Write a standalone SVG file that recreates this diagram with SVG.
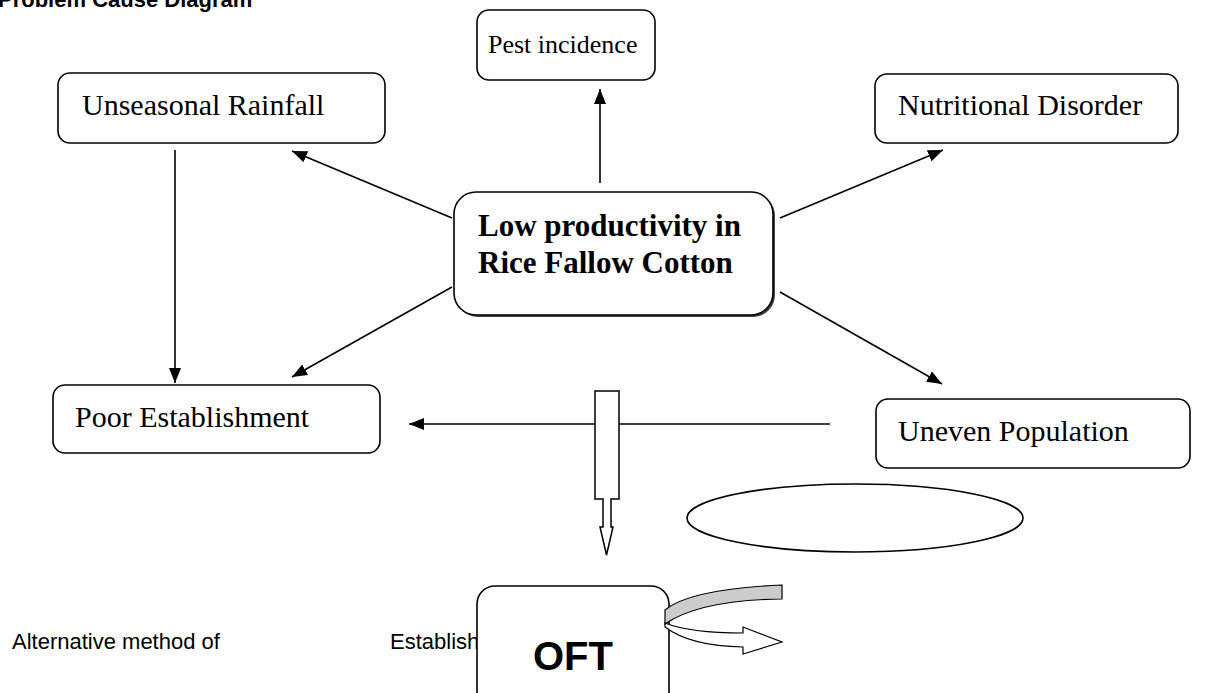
<svg xmlns="http://www.w3.org/2000/svg" width="1211" height="693" viewBox="0 0 1211 693">
<style>
.box{fill:#fff;stroke:#000;stroke-width:1.6}
.t{font-family:"Liberation Serif","Times New Roman",serif;font-size:30px;fill:#000}
.tb{font-family:"Liberation Serif","Times New Roman",serif;font-size:31px;font-weight:bold;fill:#000}
.a{font-family:"Liberation Sans",Arial,sans-serif;fill:#000}
.ln{stroke:#000;stroke-width:1.6;fill:none}
</style>
<defs>
<marker id="ah" markerUnits="userSpaceOnUse" markerWidth="16" markerHeight="12" refX="15" refY="6" orient="auto">
<path d="M0,0 L15,6 L0,12 z" fill="#000"/>
</marker>
</defs>
<rect width="1211" height="693" fill="#fff"/>
<text class="a" x="-2" y="7" font-size="22" font-weight="bold">Problem Cause Diagram</text>

<g id="connectors">
<line class="ln" x1="600" y1="183" x2="600" y2="89" marker-end="url(#ah)"/>
<line class="ln" x1="452" y1="218" x2="292" y2="151" marker-end="url(#ah)"/>
<line class="ln" x1="452" y1="287" x2="292" y2="377" marker-end="url(#ah)"/>
<line class="ln" x1="780" y1="218" x2="943" y2="150" marker-end="url(#ah)"/>
<line class="ln" x1="780" y1="292" x2="942" y2="384" marker-end="url(#ah)"/>
<line class="ln" x1="175" y1="150" x2="175" y2="383" marker-end="url(#ah)"/>
<line class="ln" x1="830" y1="424" x2="409" y2="424" marker-end="url(#ah)"/>
<path id="block-arrow" d="M595,391 H619 V499 H611 V527 H613 L606.5,555 L600,527 H603 V499 H595 Z" fill="#fff" stroke="#000" stroke-width="1.5"/>
</g>

<g id="pest"><rect class="box" x="477" y="10" width="178" height="70" rx="12"/><text class="t" x="488" y="53" style="font-size:26px">Pest incidence</text></g>
<g id="unseasonal"><rect class="box" x="58" y="73" width="327" height="70" rx="12"/><text class="t" x="82" y="115">Unseasonal Rainfall</text></g>
<g id="nutritional"><rect class="box" x="875" y="74" width="303" height="69" rx="12"/><text class="t" x="898" y="115">Nutritional Disorder</text></g>
<g id="center"><rect x="456" y="194" width="319" height="123" rx="22" fill="#444"/><rect class="box" x="454" y="192" width="319" height="123" rx="22"/><text class="tb" x="478" y="236">Low productivity in</text><text class="tb" x="478" y="273">Rice Fallow Cotton</text></g>
<g id="poor"><rect class="box" x="53" y="385" width="327" height="68" rx="12"/><text class="t" x="75" y="427">Poor Establishment</text></g>
<g id="uneven"><rect class="box" x="876" y="399" width="314" height="69" rx="12"/><text class="t" x="898" y="441">Uneven Population</text></g>
<g id="ellipse"><ellipse cx="855" cy="518" rx="168" ry="34" fill="#fff" stroke="#000" stroke-width="1.6"/></g>

<g id="alt"><text class="a" x="12" y="649" font-size="22">Alternative method of</text><text class="a" x="390" y="649" font-size="22">Establishment</text></g>
<g id="oft"><rect class="box" x="477" y="586" width="192" height="130" rx="18"/><text class="a" x="573" y="670" font-size="40" font-weight="bold" text-anchor="middle">OFT</text></g>
<g id="curved-arrow">
<path d="M665,623 Q690,633 743,633 V627 L782,642 L743,654 V647 Q690,646 665,627 Z" fill="#fff" stroke="#000" stroke-width="1.2"/>
<path d="M665,610 Q690,589 782,585 V599 Q700,600 665,624 Z" fill="#ccc" stroke="#000" stroke-width="1.2"/>
</g>
</svg>
